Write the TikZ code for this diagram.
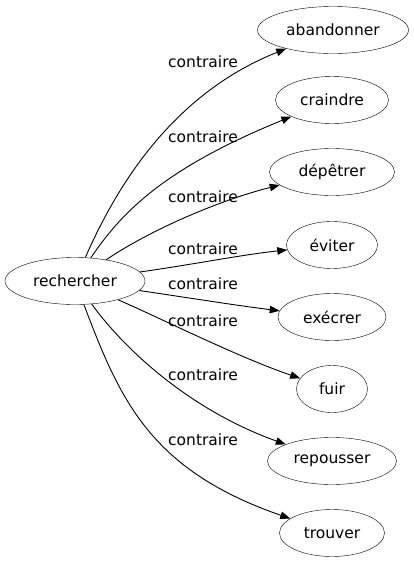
\documentclass[tikz,border=0pt]{standalone}
\usepackage{fontspec}
\setmainfont{DejaVu Sans}
\usepackage{tikz}
\usetikzlibrary{arrows.meta,shapes.geometric}

\begin{document}
\begin{tikzpicture}[
    x=1pt, y=-1pt,
    word/.style={draw, ellipse, inner sep=0pt, minimum height=47pt,
                 font=\fontsize{15.5}{18}\selectfont},
    rel/.style={font=\fontsize{15.5}{18}\selectfont, inner sep=0pt},
    edge/.style={-{Triangle[length=10pt,width=7.5pt]}, line width=0.9pt},
  ]
  \useasboundingbox (0,0) rectangle (413,563);

  \node[word, minimum width=140pt] (rech) at (75,281) {rechercher};

  \node[word, minimum width=151pt] (aban) at (333,30)  {abandonner};
  \node[word, minimum width=113pt] (crai) at (332,100) {craindre};
  \node[word, minimum width=125pt] (depe) at (332,172) {dépêtrer};
  \node[word, minimum width=91pt]  (evit) at (332,245) {éviter};
  \node[word, minimum width=108pt] (exec) at (332,317) {exécrer};
  \node[word, minimum width=71pt]  (fuir) at (332,389) {fuir};
  \node[word, minimum width=129pt] (repo) at (332,461) {repousser};
  \node[word, minimum width=105pt] (trou) at (332,533) {trouver};

  \draw[edge] (rech) .. controls (115,190) and (170,95) .. (aban);
  \draw[edge] (rech) .. controls (120,215) and (160,170) .. (crai);
  \draw[edge] (rech) .. controls (150,230) and (220,200) .. (depe);
  \draw[edge] (rech) .. controls (190,265) and (240,255) .. (evit);
  \draw[edge] (rech) .. controls (190,298) and (240,306) .. (exec);
  \draw[edge] (rech) .. controls (160,318) and (240,358) .. (fuir);
  \draw[edge] (rech) .. controls (125,350) and (190,410) .. (repo);
  \draw[edge] (rech) .. controls (120,400) and (150,470) .. (trou);

  \node[rel] (l1) at (203,62)  {contraire};
  \node[rel] (l2) at (203,137) {contraire};
  \node[rel] (l3) at (203,197) {contraire};
  \node[rel] (l4) at (203,249) {contraire};
  \node[rel] (l5) at (203,284) {contraire};
  \node[rel] (l6) at (203,321) {contraire};
  \node[rel] (l7) at (203,375) {contraire};
  \node[rel] (l8) at (203,440) {contraire};

\end{tikzpicture}
\end{document}
